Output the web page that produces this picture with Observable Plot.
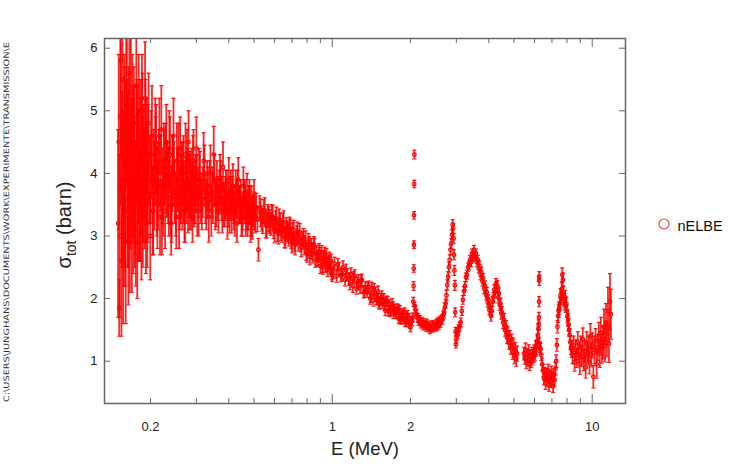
<!DOCTYPE html>
<html><head><meta charset="utf-8">
<script src="https://cdn.jsdelivr.net/npm/d3@7"></script>
<script src="https://cdn.jsdelivr.net/npm/@observablehq/plot@0.6"></script>
<style>
html,body{margin:0;padding:0;background:#fff;}
#chart{width:750px;height:468px;}
</style></head><body><div id="chart"></div>
<script>
// Energy (MeV)
const energy = [
// 0.150 - 0.21
0.150,0.1515,0.153,0.1545,0.156,0.1575,0.159,0.1605,0.162,0.1635,
0.165,0.1665,0.168,0.1695,0.171,0.1725,0.174,0.1755,0.177,0.1785,
0.180,0.1815,0.183,0.1845,0.186,0.1875,0.189,0.1905,0.192,0.1935,
0.195,0.1965,0.198,0.1995,0.201,0.2025,0.204,0.2055,0.207,0.2085,
// 0.21 - 0.31
0.210,0.2125,0.215,0.2175,0.220,0.2225,0.225,0.2275,0.230,0.2325,
0.235,0.2375,0.240,0.2425,0.245,0.2475,0.250,0.2525,0.255,0.2575,
0.260,0.2625,0.265,0.2675,0.270,0.2725,0.275,0.2775,0.280,0.2825,
0.285,0.2875,0.290,0.2925,0.295,0.2975,0.300,0.3025,0.305,0.3075,
// 0.31 - 0.505
0.310,0.315,0.320,0.325,0.330,0.335,0.340,0.345,0.350,0.355,
0.360,0.365,0.370,0.375,0.380,0.385,0.390,0.395,0.400,0.405,
0.410,0.415,0.420,0.425,0.430,0.435,0.440,0.445,0.450,0.455,
0.460,0.465,0.470,0.475,0.480,0.485,0.490,0.495,0.500,0.505,
// 0.51 - 1.00
0.51,0.52,0.53,0.54,0.55,0.56,0.57,0.58,0.59,0.60,
0.61,0.62,0.63,0.64,0.65,0.66,0.67,0.68,0.69,0.70,
0.71,0.72,0.73,0.74,0.75,0.76,0.77,0.78,0.79,0.80,
0.81,0.82,0.83,0.84,0.85,0.86,0.87,0.88,0.89,0.90,
0.91,0.92,0.93,0.94,0.95,0.96,0.97,0.98,0.99,1.00,
// 1.02 - 2.00
1.02,1.04,1.06,1.08,1.10,1.12,1.14,1.16,1.18,1.20,
1.22,1.24,1.26,1.28,1.30,1.32,1.34,1.36,1.38,1.40,
1.42,1.44,1.46,1.48,1.50,1.52,1.54,1.56,1.58,1.60,
1.62,1.64,1.66,1.68,1.70,1.72,1.74,1.76,1.78,1.80,
1.82,1.84,1.86,1.88,1.90,1.92,1.94,1.96,1.98,2.00,
// resonance near 2.06
2.03,2.04,2.05,2.055,2.058,2.061,2.064,2.067,2.07,2.075,
// 2.09 - 2.67
2.09,2.11,2.13,2.15,2.17,2.19,2.21,2.23,2.25,2.27,
2.29,2.31,2.33,2.35,2.37,2.39,2.41,2.43,2.45,2.47,
2.49,2.51,2.53,2.55,2.57,2.59,2.61,2.63,2.65,2.67,
// 2.69 - 3.06
2.69,2.71,2.73,2.75,2.77,2.79,2.81,2.83,2.85,2.87,
2.89,2.905,2.92,2.93,2.94,2.95,2.96,2.97,2.98,2.99,
3.00,3.02,3.04,3.06,
// 3.09 - 5.14
3.09,3.12,3.15,3.18,3.21,3.24,3.27,3.30,3.33,3.36,
3.39,3.42,3.45,3.48,3.51,3.54,3.57,3.60,3.63,3.66,
3.69,3.72,3.75,3.78,3.81,3.84,3.87,3.90,3.93,3.96,
3.99,4.02,4.05,4.08,4.11,4.14,4.17,4.20,4.23,4.26,
4.29,4.32,4.35,4.38,4.41,4.44,4.47,4.50,4.54,4.58,
4.62,4.66,4.70,4.74,4.78,4.82,4.86,4.90,4.94,4.98,
5.02,5.06,5.10,5.14,
// 5.46 - 6.18
5.46,5.50,5.54,5.58,5.62,5.66,5.70,5.74,5.78,5.82,
5.86,5.90,5.94,5.98,6.02,6.06,6.10,6.14,6.18,
// resonance near 6.25
6.21,6.225,6.235,6.245,6.25,6.255,6.265,6.28,
// 6.32 - 7.22
6.32,6.37,6.42,6.47,6.52,6.57,6.62,6.67,6.72,6.77,
6.82,6.87,6.92,6.97,7.02,7.07,7.12,7.17,7.22,
// 7.27 - 8.34
7.27,7.31,7.35,7.39,7.43,7.47,7.51,7.55,7.59,7.63,
7.67,7.71,7.75,7.79,7.83,7.87,7.91,7.95,7.99,8.03,
8.07,8.11,8.15,8.19,8.24,8.29,8.34,
// 8.40 - 11.8
8.40,8.48,8.56,8.64,8.72,8.80,8.88,8.96,9.04,9.12,
9.20,9.28,9.36,9.44,9.52,9.60,9.68,9.76,9.84,9.92,
10.0,10.1,10.2,10.3,10.4,10.5,10.6,10.7,10.8,10.9,
11.0,11.1,11.2,11.3,11.4,11.5,11.6,11.7,11.8,
// additional channels (interleaved) 0.15 - 0.195
0.1508,0.1523,0.1538,0.1553,0.1568,0.1583,0.1598,0.1613,0.1628,0.1643,
0.1658,0.1673,0.1688,0.1703,0.1718,0.1733,0.1748,0.1763,0.1778,0.1793,
0.1808,0.1823,0.1838,0.1853,0.1868,0.1883,0.1898,0.1913,0.1928,0.1943,
// additional 0.21 - 0.31
0.2112,0.2162,0.2212,0.2262,0.2312,0.2362,0.2412,0.2462,0.2512,0.2562,
0.2612,0.2662,0.2712,0.2762,0.2812,0.2862,0.2912,0.2962,0.3012,0.3062,
// additional 0.31 - 0.50
0.3125,0.3225,0.3325,0.3425,0.3525,0.3625,0.3725,0.3825,0.3925,0.4025,
0.4125,0.4225,0.4325,0.4425,0.4525,0.4625,0.4725,0.4825,0.4925,0.5025,
// additional 0.515 - 0.705
0.515,0.525,0.535,0.545,0.555,0.565,0.575,0.585,0.595,0.605,
0.615,0.625,0.635,0.645,0.655,0.665,0.675,0.685,0.695,0.705,
// additional 0.715 - 0.995
0.715,0.735,0.755,0.775,0.795,0.815,0.835,0.855,0.875,0.895,
0.915,0.935,0.955,0.975,0.995,
// additional 1.01 - 1.49
1.01,1.05,1.09,1.13,1.17,1.21,1.25,1.29,1.33,1.37,
1.41,1.45,1.49,
// additional 1.51 - 1.99
1.51,1.55,1.59,1.63,1.67,1.71,1.75,1.79,1.83,1.87,
1.91,1.95,1.99,
// additional 0.155 - 0.244
0.1552,0.1597,0.1642,0.1687,0.1732,0.1777,0.1822,0.1867,0.1912,0.1957,
0.2002,0.2047,0.2092,0.2137,0.2187,0.2237,0.2287,0.2337,0.2387,0.2437,
// additional 0.25 - 0.50
0.2537,0.2587,0.2637,0.2687,0.2737,0.2787,0.2837,0.2887,0.2937,0.2987,
0.3175,0.3275,0.3375,0.3475,0.3575,0.3675,0.3775,0.3875,0.3975,0.4075,
0.4175,0.4275,0.4375,0.4475,0.4575,0.4675,0.4775,0.4875,0.4975
];

// total cross section (barn)
const sigma = [
3.2,1.85,4.9,2.6,5.5,3.6,4.1,2.9,5.1,3.9,
4.6,3.3,5.3,3.0,4.2,4.8,3.5,3.1,4.5,3.8,
5.0,3.4,4.3,3.1,4.7,3.7,4.0,5.2,3.2,4.4,
3.6,4.8,3.9,3.0,4.3,4.6,3.4,4.1,3.8,4.5,

4.4,3.5,4.1,3.3,4.7,3.8,4.2,3.4,4.5,3.9,
3.6,4.3,3.2,4.0,4.6,3.7,3.5,4.2,3.9,3.3,
4.4,3.8,3.6,4.1,3.4,4.3,3.7,3.9,4.5,3.5,
3.8,4.0,3.3,4.2,3.6,3.9,4.4,3.4,3.7,4.0,

3.9,3.5,4.2,3.6,3.8,3.3,4.0,3.7,4.3,3.5,
3.8,3.4,3.9,3.6,4.1,3.5,3.7,3.3,3.9,3.6,
3.4,3.8,3.5,3.7,3.2,3.9,3.5,3.6,3.3,3.8,
3.5,3.3,3.7,3.4,3.6,3.2,3.5,3.4,3.6,3.3,

3.46,2.78,3.37,3.24,3.41,3.17,3.27,3.19,3.29,3.07,
3.28,3.04,3.19,3.06,3.22,2.98,3.08,3.01,3.11,2.89,
3.10,2.86,3.01,2.91,3.06,2.82,2.93,2.85,2.94,2.72,
2.91,2.67,2.82,2.70,2.86,2.62,2.72,2.65,2.75,2.52,
2.73,2.50,2.65,2.53,2.69,2.46,2.57,2.49,2.60,2.37,

2.56,2.36,2.48,2.37,2.50,2.30,2.38,2.31,2.39,2.20,
2.36,2.16,2.28,2.17,2.30,2.10,2.18,2.11,2.19,2.00,
2.17,1.97,2.09,1.98,2.11,1.91,1.99,1.92,2.00,1.81,
1.96,1.80,1.90,1.81,1.92,1.76,1.83,1.76,1.83,1.68,
1.81,1.66,1.75,1.67,1.78,1.62,1.69,1.62,1.69,1.54,

1.64,1.70,1.95,2.20,2.48,2.86,3.33,3.83,4.30,1.88,

1.82,1.75,1.69,1.64,1.66,1.59,1.63,1.57,1.61,1.58,
1.55,1.60,1.53,1.57,1.51,1.56,1.52,1.58,1.54,1.57,
1.55,1.60,1.56,1.62,1.58,1.64,1.61,1.67,1.66,1.73,

1.76,1.86,1.92,2.05,2.22,2.35,2.50,2.62,2.78,2.88,
3.02,3.18,3.12,2.96,2.70,2.45,2.21,1.78,1.47,1.27,
1.35,1.46,1.42,1.52,

1.55,1.62,1.80,1.98,2.12,2.20,2.34,2.38,2.50,2.53,
2.62,2.58,2.72,2.66,2.78,2.68,2.72,2.58,2.62,2.48,
2.52,2.38,2.42,2.28,2.32,2.16,2.20,2.06,2.10,1.94,
1.98,1.82,1.85,1.72,1.80,1.95,2.02,2.14,2.10,2.24,
2.18,2.20,2.02,2.08,1.90,1.92,1.76,1.78,1.62,1.66,
1.50,1.55,1.38,1.45,1.30,1.38,1.22,1.32,1.15,1.25,
1.08,1.18,1.04,1.12,

1.12,1.05,1.18,0.98,1.10,1.02,1.15,0.95,1.08,1.00,
1.12,1.04,1.08,1.15,1.10,1.22,1.18,1.32,1.40,

1.52,1.58,1.70,1.95,2.29,2.35,1.29,1.22,

1.20,1.10,0.95,0.85,0.72,0.80,0.65,0.78,0.70,0.85,
0.62,0.75,0.68,0.82,0.72,0.60,0.78,0.70,0.88,

1.00,1.26,1.55,1.72,1.80,1.85,1.92,2.05,2.00,2.15,
2.38,2.30,2.10,1.98,1.92,2.02,1.88,1.92,1.80,1.72,
1.66,1.58,1.50,1.42,1.30,1.22,1.18,

1.10,1.25,0.98,1.18,1.05,1.30,1.12,0.95,1.22,1.08,
1.35,1.02,1.15,0.90,1.28,1.12,1.20,0.98,1.40,1.10,
1.25,0.75,1.18,1.32,0.95,1.22,1.38,1.12,1.45,1.20,
1.30,1.55,1.25,1.62,1.35,1.80,1.28,1.95,1.75,

4.5,3.0,5.8,3.9,2.7,4.6,3.4,5.0,4.2,2.9,
5.6,3.8,4.0,4.9,3.3,4.4,3.6,5.4,2.9,4.1,
3.5,4.6,3.8,5.0,3.3,4.3,3.6,4.7,4.0,3.2,

3.7,4.6,3.3,4.1,3.9,4.4,3.5,4.0,3.3,4.3,
3.7,4.0,3.4,4.2,3.8,3.5,4.1,3.6,3.9,3.4,

3.6,4.0,3.7,3.4,3.9,3.6,3.8,3.5,3.7,3.4,
3.6,3.3,3.7,3.5,3.4,3.6,3.3,3.5,3.2,3.4,

3.27,3.44,3.28,3.39,3.17,3.32,3.23,3.32,3.14,3.23,
3.09,3.26,3.10,3.20,2.98,3.13,3.05,3.14,2.95,3.05,

2.91,3.07,2.89,2.98,2.75,2.86,2.76,2.83,2.63,2.70,
2.54,2.71,2.54,2.63,2.40,

2.42,2.54,2.38,2.45,2.24,2.34,2.24,2.29,2.11,2.16,
2.03,2.15,1.99,

1.94,2.03,1.90,1.95,1.79,1.87,1.79,1.83,1.69,1.75,
1.63,1.74,1.60,

3.8,4.4,3.6,4.2,3.9,4.5,3.5,4.1,3.7,4.3,
3.9,3.4,4.2,3.8,4.0,3.6,4.2,3.8,3.5,4.1,

3.9,3.6,4.0,3.7,3.8,3.5,3.9,3.7,3.6,3.8,
3.7,3.5,3.8,3.6,3.5,3.7,3.4,3.6,3.5,3.7,
3.4,3.6,3.5,3.3,3.6,3.4,3.5,3.3,3.4
];

// statistical uncertainty (barn)
const dsigma = [
1.5,0.45,1.4,1.2,1.3,1.4,1.6,1.3,1.2,1.4,
1.1,1.2,1.0,0.9,1.2,0.9,1.0,0.9,1.0,1.2,
0.9,0.8,0.9,0.8,0.9,0.8,0.7,0.9,0.8,0.8,
0.7,0.8,0.7,0.7,0.7,0.8,0.7,0.6,0.7,0.7,

0.7,0.7,0.6,0.6,0.7,0.6,0.6,0.6,0.6,0.6,
0.6,0.6,0.5,0.6,0.6,0.5,0.5,0.6,0.5,0.5,
0.5,0.5,0.5,0.5,0.5,0.5,0.5,0.5,0.5,0.4,
0.5,0.4,0.4,0.5,0.4,0.4,0.5,0.4,0.4,0.4,

0.45,0.4,0.45,0.4,0.4,0.4,0.45,0.4,0.45,0.4,
0.4,0.35,0.4,0.35,0.4,0.35,0.35,0.35,0.35,0.35,
0.35,0.35,0.3,0.35,0.3,0.35,0.3,0.3,0.3,0.3,
0.3,0.3,0.3,0.3,0.3,0.3,0.3,0.25,0.3,0.25,

0.22,0.18,0.22,0.20,0.20,0.20,0.20,0.18,0.20,0.18,
0.18,0.17,0.18,0.16,0.18,0.17,0.16,0.17,0.16,0.16,
0.15,0.16,0.15,0.15,0.14,0.15,0.14,0.15,0.14,0.14,
0.13,0.13,0.14,0.13,0.13,0.12,0.13,0.12,0.13,0.12,
0.12,0.11,0.12,0.11,0.11,0.11,0.11,0.10,0.11,0.10,

0.10,0.10,0.10,0.10,0.10,0.10,0.10,0.10,0.10,0.10,
0.10,0.09,0.10,0.09,0.09,0.09,0.09,0.09,0.09,0.09,
0.09,0.09,0.09,0.08,0.09,0.08,0.09,0.08,0.08,0.08,
0.08,0.08,0.08,0.08,0.08,0.08,0.08,0.08,0.08,0.08,
0.08,0.07,0.08,0.07,0.07,0.07,0.07,0.07,0.07,0.07,

0.07,0.07,0.07,0.07,0.06,0.06,0.06,0.06,0.07,0.06,

0.07,0.07,0.07,0.07,0.07,0.06,0.07,0.07,0.07,0.07,
0.07,0.07,0.06,0.07,0.07,0.07,0.06,0.07,0.07,0.07,
0.07,0.07,0.07,0.07,0.07,0.07,0.07,0.07,0.07,0.07,

0.07,0.07,0.07,0.08,0.08,0.08,0.08,0.08,0.08,0.08,
0.08,0.08,0.08,0.08,0.08,0.08,0.08,0.07,0.07,0.06,
0.06,0.06,0.06,0.06,

0.07,0.07,0.07,0.07,0.07,0.07,0.07,0.07,0.07,0.07,
0.07,0.07,0.07,0.07,0.07,0.07,0.07,0.07,0.07,0.07,
0.08,0.08,0.08,0.08,0.08,0.08,0.08,0.08,0.08,0.08,
0.08,0.08,0.08,0.08,0.08,0.08,0.08,0.08,0.08,0.08,
0.09,0.09,0.09,0.09,0.09,0.09,0.09,0.09,0.10,0.10,
0.10,0.10,0.10,0.10,0.11,0.11,0.11,0.11,0.12,0.12,
0.12,0.12,0.12,0.12,

0.10,0.10,0.11,0.10,0.10,0.10,0.11,0.10,0.10,0.10,
0.10,0.10,0.10,0.11,0.10,0.11,0.10,0.11,0.11,

0.08,0.08,0.08,0.08,0.08,0.08,0.08,0.08,

0.09,0.09,0.10,0.10,0.10,0.10,0.10,0.10,0.10,0.10,
0.10,0.10,0.10,0.10,0.10,0.10,0.10,0.10,0.10,

0.10,0.10,0.10,0.10,0.10,0.10,0.10,0.11,0.10,0.11,
0.11,0.11,0.10,0.10,0.10,0.11,0.10,0.10,0.10,0.10,
0.10,0.10,0.10,0.10,0.11,0.11,0.12,

0.14,0.15,0.14,0.16,0.15,0.17,0.15,0.16,0.18,0.16,
0.18,0.17,0.18,0.17,0.19,0.18,0.20,0.18,0.20,0.19,
0.20,0.18,0.22,0.20,0.22,0.21,0.24,0.22,0.25,0.23,
0.26,0.28,0.26,0.30,0.28,0.38,0.30,0.45,0.40,

1.4,1.3,1.5,1.4,1.1,1.3,1.2,1.2,1.3,1.0,
1.1,1.0,1.1,1.0,0.9,1.0,0.9,1.0,0.9,0.9,
0.9,0.9,0.8,0.9,0.8,0.8,0.8,0.8,0.8,0.7,

0.7,0.6,0.6,0.6,0.6,0.6,0.6,0.5,0.5,0.5,
0.5,0.5,0.5,0.5,0.5,0.4,0.5,0.4,0.4,0.4,

0.4,0.45,0.4,0.4,0.4,0.35,0.4,0.35,0.35,0.35,
0.35,0.3,0.35,0.3,0.3,0.3,0.3,0.3,0.25,0.3,

0.20,0.20,0.20,0.19,0.20,0.18,0.19,0.18,0.18,0.17,
0.18,0.17,0.17,0.16,0.17,0.16,0.16,0.16,0.15,0.16,

0.15,0.15,0.14,0.14,0.14,0.13,0.13,0.13,0.12,0.12,
0.12,0.11,0.11,0.11,0.10,

0.10,0.10,0.10,0.10,0.10,0.09,0.10,0.09,0.09,0.09,
0.09,0.09,0.09,

0.09,0.09,0.09,0.08,0.08,0.08,0.08,0.08,0.08,0.08,
0.07,0.07,0.07,

1.2,1.1,1.1,1.0,1.0,0.9,0.9,0.8,0.8,0.8,
0.7,0.7,0.7,0.7,0.6,0.6,0.6,0.6,0.5,0.5,

0.5,0.5,0.5,0.5,0.45,0.45,0.45,0.45,0.45,0.4,
0.4,0.4,0.4,0.4,0.35,0.35,0.35,0.35,0.35,0.35,
0.3,0.3,0.3,0.3,0.3,0.3,0.3,0.3,0.25
];

// axis ticks
const xLabelTicks = [0.2, 0.5, 1, 2, 5, 10];
const xMinorTicks = [0.2,0.3,0.4,0.5,0.6,0.7,0.8,0.9,2,3,4,5,6,7,8,9];
const xMajorTicks = [1, 10];
const yTicks = [1, 2, 3, 4, 5, 6];
const seriesName = "nELBE";
const pathLabel = "C:\\USERS\\JUNGHANS\\DOCUMENTS\\WORK\\EXPERIMENTE\\TRANSMISSION\\E";

const W = 750, H = 468, mL = 104, mR = 125, mT = 38, mB = 65;
const innerW = W - mL - mR, innerH = H - mT - mB;
const n = Math.min(energy.length, sigma.length, dsigma.length);
const data = [];
for (let i = 0; i < n; i++) data.push({E: energy[i], s: sigma[i], lo: sigma[i] - dsigma[i], hi: sigma[i] + dsigma[i]});

const cap = {draw(ctx, size) { const r = Math.sqrt(size / Math.PI); ctx.moveTo(-r, 0); ctx.lineTo(r, 0); }};
const RED = "#ff0000", AX = "#666";
const font = "'Liberation Sans', Arial, sans-serif";

const svg = Plot.plot({
  width: W, height: H,
  marginLeft: mL, marginRight: mR, marginTop: mT, marginBottom: mB,
  style: {fontFamily: font, fontSize: "13px", color: "#222", background: "#fff", overflow: "visible"},
  x: {type: "log", domain: [0.133, 13.43]},
  y: {domain: [0.324, 6.155]},
  marks: [
    Plot.ruleX(data, {x: "E", y1: "lo", y2: "hi", stroke: RED, strokeOpacity: 0.85, strokeWidth: 1.8, clip: true}),
    Plot.dot(data, {x: "E", y: "lo", symbol: cap, r: 2, fill: "none", stroke: RED, strokeOpacity: 0.9, strokeWidth: 1.2, clip: true}),
    Plot.dot(data, {x: "E", y: "hi", symbol: cap, r: 2, fill: "none", stroke: RED, strokeOpacity: 0.9, strokeWidth: 1.2, clip: true}),
    Plot.dot(data, {x: "E", y: "s", r: 1.8, fill: "none", stroke: RED, strokeWidth: 1.2, clip: true}),
    Plot.ruleX(xMinorTicks, {x: d => d, insetTop: innerH - 5, stroke: AX}),
    Plot.ruleX(xMinorTicks, {x: d => d, insetBottom: innerH - 5, stroke: AX}),
    Plot.ruleX(xMajorTicks, {x: d => d, insetTop: innerH - 9, stroke: AX}),
    Plot.ruleX(xMajorTicks, {x: d => d, insetBottom: innerH - 9, stroke: AX}),
    Plot.ruleY(yTicks, {y: d => d, insetRight: innerW - 6, stroke: AX}),
    Plot.ruleY(yTicks, {y: d => d, insetLeft: innerW - 6, stroke: AX}),
    Plot.frame({stroke: AX, strokeWidth: 1.5}),
    Plot.axisX(xLabelTicks, {tickSize: 0, tickPadding: 18, tickFormat: d => String(d), label: null}),
    Plot.axisY(yTicks, {tickSize: 0, tickPadding: 7, tickFormat: d => String(d), label: null})
  ]
});
document.getElementById("chart").appendChild(svg);

const s = d3.select(svg);
// x title
s.append("text").attr("x", 365).attr("y", 455).attr("text-anchor", "middle")
  .attr("font-family", font).attr("font-size", 18.5).attr("fill", "#222").text("E (MeV)");
// y title
const yt = s.append("text").attr("transform", "translate(71,225) rotate(-90)").attr("text-anchor", "middle")
  .attr("font-family", font).attr("font-size", 20).attr("fill", "#222");
yt.append("tspan").text("σ");
yt.append("tspan").attr("font-size", 14).attr("dy", 5).text("tot");
yt.append("tspan").attr("dy", -5).text(" (barn)");
// file path
s.append("text").attr("transform", "translate(9,222) rotate(-90)").attr("text-anchor", "middle")
  .attr("font-family", "'DejaVu Sans', sans-serif").attr("font-size", 7.5).attr("fill", "#333")
  .attr("textLength", 360).attr("lengthAdjust", "spacingAndGlyphs").text(pathLabel);
// legend
s.append("circle").attr("cx", 664).attr("cy", 224).attr("r", 5).attr("fill", "none").attr("stroke", "#ff4040").attr("stroke-width", 1.2);
s.append("text").attr("x", 700).attr("y", 231).attr("font-family", font).attr("font-size", 14.5).attr("fill", "#111").text(seriesName);
</script>
</body></html>
